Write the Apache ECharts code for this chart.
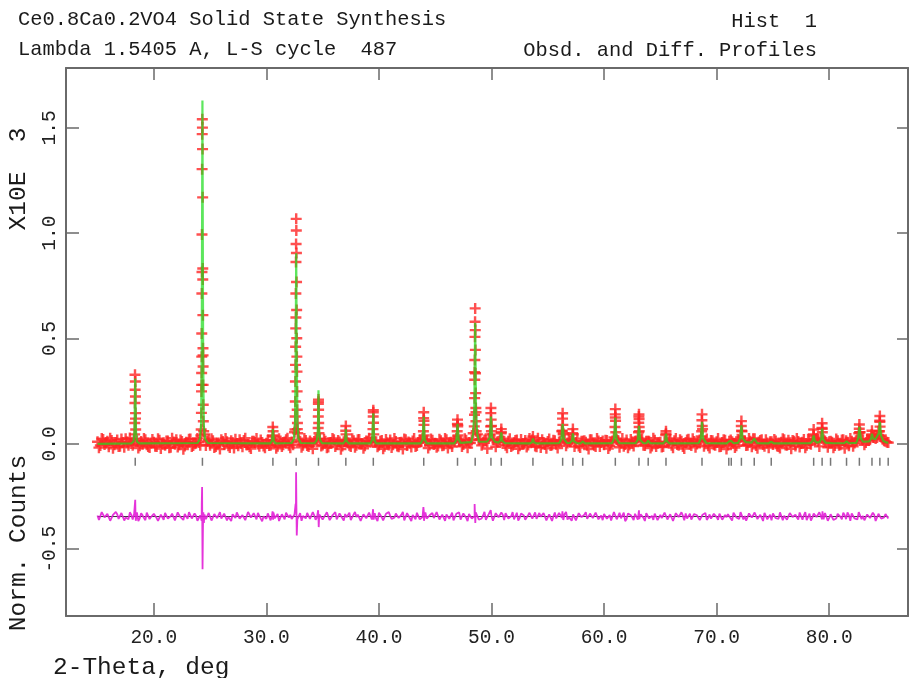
<!DOCTYPE html>
<html>
<head>
<meta charset="utf-8">
<script src="https://cdn.jsdelivr.net/npm/echarts@6/dist/echarts.min.js"></script>
<style>
  html, body { margin: 0; padding: 0; background: #fff; }
  #main { width: 909px; height: 678px; }
</style>
</head>
<body>
<div id="main"></div>
<script>
// powder scan: start angle and step of the observed/difference profile (deg)
// two interleaved passes: obsBase at scanStart, obsBase2 half a step later
const scanStart = 15.0;
const scanStep = 0.25;

// observed counts on the scan grid (background + peak feet)
const obsBase = [
  10,-8,21,3,-14,16,-4,18,-11,6,24,-6,2,22,15,-9,-2,19,-12,4,
  8,-13,17,1,-7,14,-16,9,20,-4,11,-10,5,23,-8,3,7,280,45,12,
  -6,15,-12,4,19,-3,10,-17,7,22,-9,2,16,-5,-14,12,6,-1,18,-10,
  3,-8,18,6,-11,14,-4,20,-7,9,55,70,12,-6,16,-12,5,11,22,25,
  -5,13,-15,7,19,-2,9,-10,20,4,-13,15,-6,21,0,-9,12,8,150,10,
  -7,16,-11,5,18,-4,11,-14,8,23,-8,3,14,-12,6,10,110,15,-5,17,
  2,-10,15,-6,19,4,-13,12,90,14,-3,17,6,18,340,45,22,8,16,25,
  85,20,9,20,14,-7,13,-12,5,18,-9,2,16,-5,10,12,-14,7,20,-3,
  11,-8,17,-2,9,60,18,4,12,45,6,-10,12,15,-6,19,1,-12,14,7,
  -4,16,-9,14,125,16,3,-11,18,-5,9,12,28,20,-7,13,12,-10,17,2,
  8,-12,48,10,-6,15,-3,19,-13,6,22,-8,11,-1,18,70,14,-9,16,-4,
  10,-14,7,17,-5,18,3,-9,18,60,15,-6,12,24,-8,9,19,-11,4,10,
  -3,14,-12,8,20,-7,5,16,-10,11,2,21,-6,13,16,18,12,28,20,6,
  10,8,-8,15,-4,19,15,-9,12,4,20,55,18,6,16,40,30,30,105,22,
  12,6
];

// observed counts, second pass (half a step later)
const obsBase2 = [
  -18,25,-3,12,27,-21,6,-12,23,-16,9,28,-7,120,-20,11,26,-4,-17,21,
  -11,24,-22,5,14,-19,27,-2,-15,18,-25,8,22,-13,1,26,-6,420,-8,19,
  24,-17,3,-24,11,26,-9,15,-20,2,19,-14,27,-3,-22,13,25,-11,6,-19,
  17,-6,35,-21,24,-13,9,27,-18,-4,600,20,-16,25,-8,14,-23,19,200,-10,
  22,-19,5,26,-12,16,-25,10,15,-7,24,-16,20,-1,-21,14,27,12,10,-14,
  13,-23,21,-5,-17,26,-10,6,-24,19,9,-15,25,-8,17,25,12,-20,23,-3,
  -16,22,-9,26,-20,8,15,25,12,-12,24,-18,4,50,150,20,-7,18,-22,45,
  20,-14,11,55,12,-19,24,-6,16,-23,21,-1,-15,25,18,-10,27,-17,7,-21,
  23,-5,15,-20,12,50,-9,19,20,-13,25,-17,12,8,-24,20,-6,26,-12,14,
  17,-22,6,30,20,-16,25,-3,-19,21,-10,14,60,24,-8,12,-20,27,-13,5,
  -15,10,8,21,-18,26,-7,13,-22,18,-2,24,-16,9,35,-11,23,-20,15,-6,
  25,-12,19,-24,12,10,-17,22,30,15,-8,26,-14,24,-21,16,-3,20,-18,10,
  21,-10,-20,24,-5,17,-23,12,26,-15,8,-19,22,-2,40,25,-12,72,14,-16,
  12,-18,23,-7,18,-21,8,26,-11,15,50,22,-4,19,20,30,25,60,40,15,
  8
];

// observed points on the peak flanks [2theta, counts]
const obsPeaks = [
  [18.33,328],[18.36,296],[18.34,257],[18.37,225],[18.32,194],[18.38,146],[18.31,99],[18.39,68],[18.30,45],
  [24.31,1541],[24.32,1501],[24.30,1470],[24.33,1399],[24.29,1304],[24.34,1170],[24.28,994],[24.35,832],
  [24.28,816],[24.35,780],[24.27,714],[24.36,611],[24.26,524],[24.37,454],[24.26,414],[24.38,367],
  [24.25,336],[24.38,280],[24.24,249],[24.39,186],[24.23,147],[24.40,107],[24.21,68],[24.43,60],[24.18,40],
  [30.57,80],[30.60,60],[30.55,40],
  [32.65,1068],[32.66,1013],[32.64,949],[32.67,906],[32.63,863],[32.68,768],[32.62,714],[32.69,635],
  [32.61,548],[32.70,501],[32.60,461],[32.71,414],[32.59,375],[32.72,343],[32.58,296],[32.73,249],
  [32.57,201],[32.74,162],[32.56,130],[32.76,99],[32.54,68],[32.78,50],
  [34.63,210],[34.62,190],[34.64,162],[34.61,130],[34.65,99],[34.60,75],[34.67,50],
  [37.06,85],[37.05,62],[37.08,45],
  [39.50,160],[39.49,130],[39.52,100],[39.47,70],[39.54,45],
  [43.98,150],[43.97,122],[44.00,90],[43.95,60],[44.02,40],
  [46.98,115],[46.97,95],[47.00,83],[46.95,60],[47.02,40],
  [48.55,643],[48.54,580],[48.56,540],[48.53,508],[48.57,446],[48.52,398],[48.58,335],[48.51,304],
  [48.59,241],[48.50,217],[48.61,170],[48.49,138],[48.62,107],[48.47,83],[48.64,60],
  [49.95,170],[49.94,146],[49.97,115],[49.92,83],[49.99,60],
  [50.87,70],[50.85,50],
  [53.68,35],
  [56.32,145],[56.31,120],[56.34,90],[56.29,62],[56.37,45],
  [57.23,70],[57.21,50],
  [61.00,165],[60.99,140],[61.02,110],[60.97,80],[61.04,55],
  [63.10,140],[63.09,130],[63.11,118],[63.08,100],[63.12,80],[63.06,55],
  [65.50,60],[65.48,42],
  [68.70,140],[68.69,112],[68.72,85],[68.67,60],
  [72.20,108],[72.19,85],[72.22,62],
  [78.62,68],[78.60,45],
  [79.37,98],[79.36,75],[79.39,55],
  [82.68,92],[82.67,72],[82.70,55],
  [83.80,62],[83.78,45],
  [84.50,132],[84.49,110],[84.52,82],[84.47,60]
];

// calculated profile [2theta, counts]
const calcProfile = [
  [15.0,0],
  [18.0,2],[18.2,12],[18.28,60],[18.35,310],[18.42,60],[18.5,12],[18.7,2],
  [23.9,4],[24.1,25],[24.2,90],[24.26,450],[24.32,1630],[24.38,450],[24.44,90],[24.55,25],[24.8,4],
  [30.35,2],[30.5,15],[30.58,70],[30.66,15],[30.8,2],
  [32.25,4],[32.45,25],[32.55,100],[32.6,400],[32.65,905],[32.7,400],[32.76,100],[32.85,25],[33.05,4],
  [34.3,3],[34.5,20],[34.58,70],[34.63,255],[34.68,70],[34.76,20],[34.95,3],
  [36.85,2],[37.0,15],[37.06,70],[37.12,15],[37.3,2],
  [39.25,2],[39.4,20],[39.5,145],[39.58,20],[39.75,2],
  [43.7,2],[43.88,20],[43.98,130],[44.06,20],[44.25,2],
  [46.7,2],[46.88,20],[46.98,95],[47.08,20],[47.25,5],
  [48.2,8],[48.38,50],[48.47,170],[48.55,575],[48.62,170],[48.72,50],[48.9,10],
  [49.6,10],[49.85,30],[49.95,130],[50.05,30],[50.3,10],
  [50.6,6],[50.78,15],[50.87,55],[50.95,15],[51.2,3],
  [53.4,2],[53.6,8],[53.68,25],[53.76,8],[54.0,2],
  [56.0,3],[56.2,20],[56.32,95],[56.42,25],[56.7,5],
  [56.95,4],[57.15,15],[57.23,50],[57.32,12],[57.6,3],
  [57.9,2],[58.1,12],[58.3,2],
  [60.7,3],[60.88,25],[61.0,125],[61.1,25],[61.35,3],
  [62.8,3],[63.0,20],[63.1,85],[63.2,20],[63.5,3],
  [63.75,3],[63.92,15],[64.1,3],
  [65.25,2],[65.42,12],[65.5,48],[65.6,12],[65.8,2],
  [68.4,3],[68.6,25],[68.7,105],[68.8,25],[69.1,3],
  [70.9,2],[71.1,12],[71.3,14],[71.5,3],
  [71.9,5],[72.1,25],[72.2,88],[72.3,25],[72.6,8],
  [73.1,6],[73.34,25],[73.6,3],
  [74.6,2],[74.85,10],[75.1,2],
  [78.3,3],[78.5,12],[78.62,40],[78.72,14],[78.9,6],
  [79.15,8],[79.3,25],[79.37,72],[79.46,20],[79.7,5],
  [79.95,5],[80.12,12],[80.3,3],
  [81.35,3],[81.54,12],[81.75,3],
  [82.4,5],[82.58,28],[82.68,82],[82.8,28],[83.0,10],
  [83.55,12],[83.72,25],[83.8,48],[83.9,25],[84.1,22],
  [84.25,25],[84.4,50],[84.5,105],[84.6,40],[84.8,15],[85.0,8],[85.25,5]
];

// obs - calc on the scan grid (counts)
const diffBase = [
  5,-12,14,-6,18,-15,3,11,-9,16,-4,-13,9,12,20,-8,6,-17,10,-2,
  13,-7,-14,8,17,-10,2,15,-16,7,-3,12,-11,19,-5,4,-15,-20,10,-6,
  9,-13,16,-2,-9,14,-18,6,11,-7,18,-12,3,-15,13,-4,8,17,-10,1,
  -11,15,4,-8,12,-16,7,18,-5,-12,10,-14,16,3,-9,14,-17,6,-3,11,
  -14,9,17,-6,2,-13,15,-8,12,4,-17,10,-2,16,-11,7,-15,13,5,-9,
  18,-4,-12,11,3,-15,14,-7,9,-18,16,-1,8,-13,12,-5,15,-10,6,17,
  -8,13,-16,4,10,-11,19,-3,7,-14,15,-6,12,-9,2,18,-12,5,-15,11,
  3,-17,14,-5,9,16,-10,2,-13,18,-7,11,-15,6,13,-4,-11,17,-8,8,
  -12,15,1,-9,17,-6,12,-14,4,10,-18,16,-3,9,-11,14,-7,19,-13,5,
  12,-10,7,-16,15,2,-8,18,-12,6,-4,13,-15,11,-6,16,-9,3,14,-17,
  8,-5,16,-13,10,-2,19,-11,4,15,-8,-14,12,6,-17,9,17,-6,-10,13,
  -3,14,-15,7,11,-9,18,-4,-12,16,2,-16,10,-7,13,-11,5,17,-13,9,
  15,-8,-11,12,4,-15,17,-2,9,-14,11,6,-17,14,-5,18,-10,3,-13,16,
  -6,10,-16,13,-1,18,-12,7,15,-9,-14,12,3,-11,17,-4,8,-15,11,-7,
  12,-9
];

// obs - calc, second pass (half a step later)
const diffBase2 = [
  -16,21,-4,13,-20,8,22,-11,17,-19,5,20,-14,10,-22,16,-7,19,-12,3,
  18,-21,9,-15,22,-6,14,-18,20,-3,-16,11,21,-9,15,-20,6,-25,-12,17,
  -19,12,-8,21,-14,18,-2,-21,13,20,-10,7,-17,22,-5,16,-13,19,-22,9,
  15,-18,20,-4,-21,11,-13,22,8,-16,19,-7,-20,12,17,-11,21,-15,-6,18,
  -9,20,-17,6,21,-12,14,-19,-3,18,-15,22,9,-20,11,-8,19,-14,16,-21,
  7,-18,13,21,-11,-5,19,-16,22,-10,4,-21,15,18,-13,-2,20,-19,12,-7,
  21,-14,9,-20,17,-6,-18,13,20,-12,7,-22,16,-4,19,-15,-9,22,-11,14,
  -20,16,-3,19,-17,11,-13,21,-8,-19,15,5,-21,18,-10,20,-14,-1,17,-18,
  10,-21,19,-7,14,-16,22,-2,-20,13,-11,17,-5,21,-18,8,-14,20,-9,-17,
  16,-4,-19,21,-13,18,-8,-22,15,6,-17,20,-11,9,-21,17,-3,-16,22,-12,
  -7,19,-14,11,-21,16,-2,20,-18,-9,14,-20,21,-6,-13,18,-16,10,-4,20,
  -15,22,-10,-3,17,-19,12,-8,21,-14,-20,15,-5,19,-12,8,-21,16,-7,-18,
  13,-6,20,-17,9,-21,16,-11,-4,19,-15,21,-8,-19,14,-2,20,-13,17,-20,
  11,-16,-9,22,-13,6,19,-20,15,-5,21,-12,-18,10,-7,18,-21,13,-10,-4,
  14
];

// difference spikes at the misfit peaks [2theta, counts]
const diffSpikes = [
  [18.30,20],[18.35,80],[18.40,-20],
  [24.22,10],[24.26,60],[24.29,140],[24.31,-60],[24.33,-250],[24.36,-80],[24.40,20],[24.45,-30],
  [30.55,25],[30.60,-15],
  [32.60,60],[32.64,210],[32.67,40],[32.70,-90],[32.74,-30],
  [34.60,30],[34.65,-50],[34.70,10],
  [39.48,35],[39.53,-15],
  [43.95,45],[44.00,-20],
  [48.50,60],[48.56,-30],[48.60,20],
  [49.93,30],[56.30,25],[61.00,25],[63.10,30],[72.20,20],[79.40,25],[84.50,20]
];

// reflection positions (2theta)
const reflections = [
  18.35,24.32,30.58,32.65,34.63,37.06,39.5,43.98,46.98,48.55,49.95,50.87,53.68,56.32,57.23,58.1,
  61.0,63.1,63.92,65.5,68.7,71.08,71.3,72.2,73.34,74.85,78.62,79.37,80.12,81.54,82.68,83.8,84.5,85.24
];

const xTicks = [20, 30, 40, 50, 60, 70, 80];
const yTicks = [-0.5, 0, 0.5, 1.0, 1.5];

// plot offsets (counts) for the difference curve and reflection markers
const diffOffset = -345;
const reflLevel = -85;

const k = 1000; // axis is X10E 3

const gridX = i => scanStart + i * scanStep;
const gridX2 = i => scanStart + scanStep / 2 + i * scanStep;

const obsData = obsBase.map((c, i) => [gridX(i), c / k])
  .concat(obsBase2.map((c, i) => [gridX2(i), c / k]))
  .concat(obsPeaks.map(p => [p[0], p[1] / k]));
const calcData = calcProfile.map(p => [p[0], p[1] / k]);
const diffData = diffBase.map((c, i) => [gridX(i), c])
  .concat(diffBase2.map((c, i) => [gridX2(i), c]))
  .concat(diffSpikes)
  .sort((a, b) => a[0] - b[0])
  .map(p => [p[0], (p[1] + diffOffset) / k]);
const scanEnd = gridX(obsBase.length - 1);
const zeroLine = [[scanStart, diffOffset / k], [scanEnd, diffOffset / k]];
const reflData = reflections.map(x => [x, reflLevel / k]);

const font = '"Liberation Mono", monospace';
const axisGrey = '#6a6a6a';
const cross = 'path://M3.9,0H6.1V3.9H10V6.1H6.1V10H3.9V6.1H0V3.9H3.9Z';

const chart = echarts.init(document.getElementById('main'), null, { renderer: 'canvas' });

const option = {
  animation: false,
  backgroundColor: '#fff',
  grid: { left: 66, right: 1, top: 68, bottom: 62, outerBoundsMode: 'none' },
  xAxis: [
    {
      type: 'value', min: 12.2, max: 87.0, position: 'bottom',
      axisLine: { onZero: false, lineStyle: { color: axisGrey, width: 2 } },
      axisTick: { inside: true, length: 13, customValues: xTicks, lineStyle: { color: axisGrey, width: 1.5 } },
      axisLabel: {
        customValues: xTicks, margin: 12, color: '#222',
        fontFamily: font, fontSize: 19.5,
        formatter: v => v.toFixed(1)
      },
      splitLine: { show: false }
    },
    {
      type: 'value', min: 12.2, max: 87.0, position: 'top',
      axisLine: { onZero: false, lineStyle: { color: axisGrey, width: 2 } },
      axisTick: { inside: true, length: 12, customValues: xTicks, lineStyle: { color: axisGrey, width: 1.5 } },
      axisLabel: { show: false },
      splitLine: { show: false }
    }
  ],
  yAxis: [
    {
      type: 'value', min: -0.817, max: 1.784, position: 'left',
      axisLine: { onZero: false, lineStyle: { color: axisGrey, width: 2 } },
      axisTick: { inside: true, length: 13, customValues: yTicks, lineStyle: { color: axisGrey, width: 1.5 } },
      axisLabel: {
        customValues: yTicks, rotate: 90, margin: 6, color: '#222',
        fontFamily: font, fontSize: 19.5,
        formatter: v => v.toFixed(1)
      },
      splitLine: { show: false }
    },
    {
      type: 'value', min: -0.817, max: 1.784, position: 'right',
      axisLine: { onZero: false, lineStyle: { color: axisGrey, width: 2 } },
      axisTick: { inside: true, length: 11, customValues: yTicks, lineStyle: { color: axisGrey, width: 1.5 } },
      axisLabel: { show: false },
      splitLine: { show: false }
    }
  ],
  graphic: [
    { type: 'text', x: 18, y: 20, style: { text: 'Ce0.8Ca0.2VO4 Solid State Synthesis', font: '20.4px ' + font, fill: '#1a1a1a', textVerticalAlign: 'middle' } },
    { type: 'text', x: 18, y: 50, style: { text: 'Lambda 1.5405 A, L-S cycle  487', font: '20.4px ' + font, fill: '#1a1a1a', textVerticalAlign: 'middle' } },
    { type: 'text', x: 817, y: 22, style: { text: 'Hist  1', font: '20.4px ' + font, fill: '#1a1a1a', textAlign: 'right', textVerticalAlign: 'middle' } },
    { type: 'text', x: 817, y: 51, style: { text: 'Obsd. and Diff. Profiles', font: '20.4px ' + font, fill: '#1a1a1a', textAlign: 'right', textVerticalAlign: 'middle' } },
    { type: 'text', x: 53, y: 668, style: { text: '2-Theta, deg', font: '24.5px ' + font, fill: '#1a1a1a', textVerticalAlign: 'middle' } },
    { type: 'text', x: 19, y: 179, rotation: Math.PI / 2, style: { text: 'X10E  3', font: '24.5px ' + font, fill: '#1a1a1a', textAlign: 'center', textVerticalAlign: 'middle' } },
    { type: 'text', x: 19, y: 543, rotation: Math.PI / 2, style: { text: 'Norm. Counts', font: '24.5px ' + font, fill: '#1a1a1a', textAlign: 'center', textVerticalAlign: 'middle' } }
  ],
  series: [
    {
      name: 'Obsd', type: 'scatter', data: obsData, z: 2,
      symbol: cross, symbolSize: 11,
      itemStyle: { color: '#ff2424' },
      silent: true
    },
    {
      name: 'Calc', type: 'line', data: calcData, z: 3,
      showSymbol: false,
      lineStyle: { color: '#1fdc1f', width: 2.2, opacity: 0.72 },
      silent: true
    },
    {
      name: 'Refl', type: 'scatter', data: reflData, z: 3,
      symbol: 'rect', symbolSize: [1.5, 8],
      itemStyle: { color: '#555' },
      silent: true
    },
    {
      name: 'Zero', type: 'line', data: zeroLine, z: 2,
      showSymbol: false,
      lineStyle: { color: '#333', width: 1 },
      silent: true
    },
    {
      name: 'Diff', type: 'line', data: diffData, z: 3,
      showSymbol: false,
      lineStyle: { color: '#e21ed6', width: 1.8, opacity: 0.9 },
      silent: true
    }
  ]
};

chart.setOption(option);
</script>
</body>
</html>
